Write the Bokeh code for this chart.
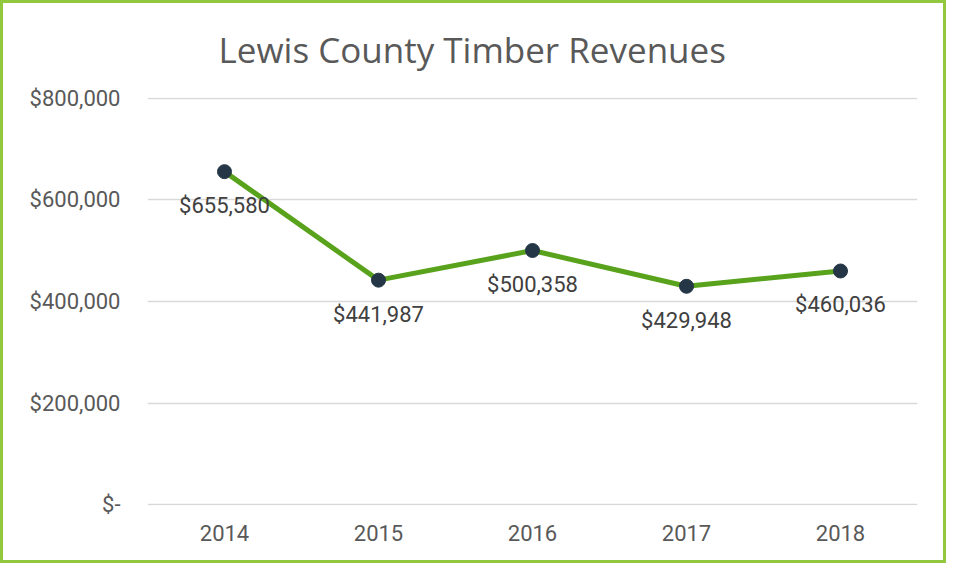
from bokeh.plotting import figure
from bokeh.models import Range1d, FixedTicker, ColumnDataSource
from bokeh.embed import file_html
from bokeh.resources import INLINE
from bokeh.core.properties import value

years = ["2014", "2015", "2016", "2017", "2018"]
revenues = [655580, 441987, 500358, 429948, 460036]
labels = ["$655,580", "$441,987", "$500,358", "$429,948", "$460,036"]
y_ticks = [0, 200000, 400000, 600000, 800000]
y_tick_labels = ["$-", "$200,000", "$400,000", "$600,000", "$800,000"]

src = ColumnDataSource(dict(x=years, y=revenues, lab=labels))

W, H = 946, 563
p = figure(x_range=years, y_range=Range1d(-1500, 801500),
           width=W, height=H, output_backend="svg", toolbar_location=None,
           min_border_left=144, min_border_right=32, min_border_top=93, min_border_bottom=61)
p.styles = {"border": "3px solid #92C83E", "box-sizing": "border-box"}
p.outline_line_color = None
p.background_fill_color = "white"
p.border_fill_color = "white"

p.title.text = "Lewis County Timber Revenues"
p.title.align = "left"
p.title.offset = 71
p.title.vertical_align = "top"
p.title.text_font = "Open Sans"
p.title.text_font_size = "35px"
p.title.text_font_style = "normal"
p.title.text_color = "#595959"
p.title.standoff = 45

p.xgrid.grid_line_color = None
p.ygrid.grid_line_color = "#D9D9D9"
p.ygrid.grid_line_width = 1.5

p.yaxis.ticker = FixedTicker(ticks=y_ticks)
p.yaxis.major_label_overrides = {t: l for t, l in zip(y_ticks, y_tick_labels)}
for ax in (p.xaxis, p.yaxis):
    ax.axis_line_color = None
    ax.major_tick_line_color = None
    ax.minor_tick_line_color = None
    ax.major_tick_out = 0
    ax.major_tick_in = 0
    ax.major_label_text_font = "Roboto"
    ax.major_label_text_font_size = "22px"
    ax.major_label_text_color = "#595959"
p.yaxis.major_label_standoff = 27
p.xaxis.major_label_standoff = 19

p.line("x", "y", source=src, line_color="#58A21C", line_width=5)
p.scatter("x", "y", source=src, size=14, fill_color="#253746", line_color="#253746")
p.text("x", "y", text="lab", source=src, text_font=value("Roboto"), text_font_size="22px",
       text_color="#404040", text_align="center", text_baseline="middle", y_offset=34)

open("out.html", "w").write(file_html(p, INLINE))
